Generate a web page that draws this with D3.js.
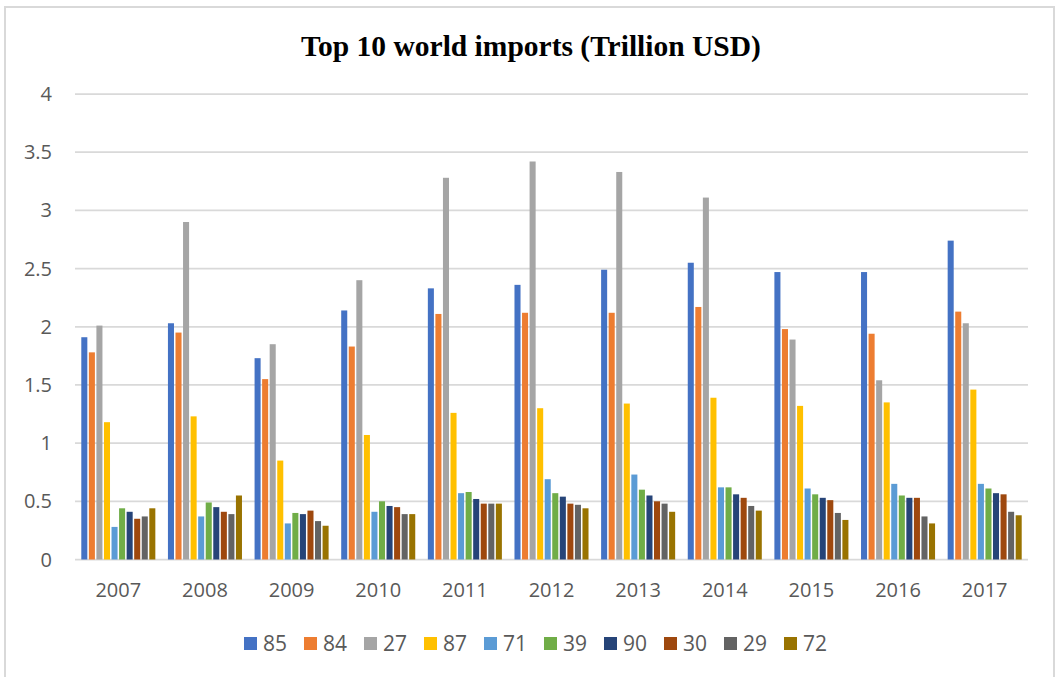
<!DOCTYPE html>
<html>
<head>
<meta charset="utf-8">
<script src="https://cdn.jsdelivr.net/npm/d3@7"></script>
<style>
  body { margin: 0; background: #fff; }
  svg text { font-family: "Open Sans", "Liberation Sans", sans-serif; fill: #595959; }
</style>
</head>
<body>
<svg id="chart" width="1056" height="677"></svg>
<script>
// years on the x axis
var years = ["2007", "2008", "2009", "2010", "2011", "2012", "2013", "2014", "2015", "2016", "2017"];

// HS codes (series), in legend order
var codes = ["85", "84", "27", "87", "71", "39", "90", "30", "29", "72"];
var colors = ["#4472C4", "#ED7D31", "#A5A5A5", "#FFC000", "#5B9BD5", "#70AD47", "#264478", "#9E480E", "#636363", "#997300"];

// values per series, one per year (trillion USD)
var s85 = [1.91, 2.03, 1.73, 2.14, 2.33, 2.36, 2.49, 2.55, 2.47, 2.47, 2.74];
var s84 = [1.78, 1.95, 1.55, 1.83, 2.11, 2.12, 2.12, 2.17, 1.98, 1.94, 2.13];
var s27 = [2.01, 2.90, 1.85, 2.40, 3.28, 3.42, 3.33, 3.11, 1.89, 1.54, 2.03];
var s87 = [1.18, 1.23, 0.85, 1.07, 1.26, 1.30, 1.34, 1.39, 1.32, 1.35, 1.46];
var s71 = [0.28, 0.37, 0.31, 0.41, 0.57, 0.69, 0.73, 0.62, 0.61, 0.65, 0.65];
var s39 = [0.44, 0.49, 0.40, 0.50, 0.58, 0.57, 0.60, 0.62, 0.56, 0.55, 0.61];
var s90 = [0.41, 0.45, 0.39, 0.46, 0.52, 0.54, 0.55, 0.56, 0.53, 0.53, 0.57];
var s30 = [0.35, 0.41, 0.42, 0.45, 0.48, 0.48, 0.50, 0.53, 0.51, 0.53, 0.56];
var s29 = [0.37, 0.39, 0.33, 0.39, 0.48, 0.47, 0.48, 0.46, 0.40, 0.37, 0.41];
var s72 = [0.44, 0.55, 0.29, 0.39, 0.48, 0.44, 0.41, 0.42, 0.34, 0.31, 0.38];
var series = [s85, s84, s27, s87, s71, s39, s90, s30, s29, s72];

var yTicks = [0, 0.5, 1, 1.5, 2, 2.5, 3, 3.5, 4];

var svg = d3.select("#chart");

// chart frame (left, top, right edges)
svg.append("path")
    .attr("d", "M5,677 V7 H1054 V677")
    .attr("fill", "none")
    .attr("stroke", "#D9D9D9")
    .attr("stroke-width", 2);

var x0 = d3.scaleBand().domain(years).range([75, 1028]).padding(0);
var groupPad = 6.3;
var x1 = d3.scaleBand().domain(codes)
    .range([groupPad, x0.bandwidth() - groupPad])
    .paddingInner(0.2);
var y = d3.scaleLinear().domain([0, 4]).range([559.5, 94]);

// gridlines
svg.append("g").selectAll("line")
    .data(yTicks)
    .enter().append("line")
    .attr("x1", 75).attr("x2", 1028)
    .attr("y1", function (d) { return y(d); })
    .attr("y2", function (d) { return y(d); })
    .attr("stroke", "#D9D9D9")
    .attr("stroke-width", 1.75);

// y labels
svg.append("g").selectAll("text")
    .data(yTicks)
    .enter().append("text")
    .attr("x", 52)
    .attr("y", function (d) { return y(d); })
    .attr("dy", "0.35em")
    .attr("text-anchor", "end")
    .style("font-size", "20px")
    .text(function (d) { return d3.format("")(d); });

// bars
var groups = svg.append("g").selectAll("g")
    .data(years)
    .enter().append("g")
    .attr("transform", function (d) { return "translate(" + x0(d) + ",0)"; });

groups.selectAll("rect")
    .data(function (yr, i) {
        return codes.map(function (c, k) { return { code: c, value: series[k][i], color: colors[k] }; });
    })
    .enter().append("rect")
    .attr("x", function (d) { return x1(d.code); })
    .attr("width", x1.bandwidth())
    .attr("y", function (d) { return y(d.value); })
    .attr("height", function (d) { return y(0) - y(d.value); })
    .attr("fill", function (d) { return d.color; });

// x labels
svg.append("g").selectAll("text")
    .data(years)
    .enter().append("text")
    .attr("x", function (d) { return x0(d) + x0.bandwidth() / 2; })
    .attr("y", 590)
    .attr("dy", "0.35em")
    .attr("text-anchor", "middle")
    .style("font-size", "20px")
    .text(function (d) { return d; });

// title
svg.append("text")
    .attr("x", 531)
    .attr("y", 56)
    .attr("text-anchor", "middle")
    .style("font-family", "'Liberation Serif', 'Times New Roman', serif")
    .style("font-weight", "bold")
    .style("font-size", "29.5px")
    .style("fill", "#000")
    .text("Top 10 world imports (Trillion USD)");

// legend
var legend = svg.append("g").selectAll("g")
    .data(codes)
    .enter().append("g")
    .attr("transform", function (d, i) { return "translate(" + (244 + i * 60) + ",637)"; });
legend.append("rect")
    .attr("width", 13).attr("height", 13)
    .attr("fill", function (d, i) { return colors[i]; });
legend.append("text")
    .attr("x", 19)
    .attr("y", 6.5)
    .attr("dy", "0.35em")
    .style("font-size", "21px")
    .text(function (d) { return d; });
</script>
</body>
</html>
